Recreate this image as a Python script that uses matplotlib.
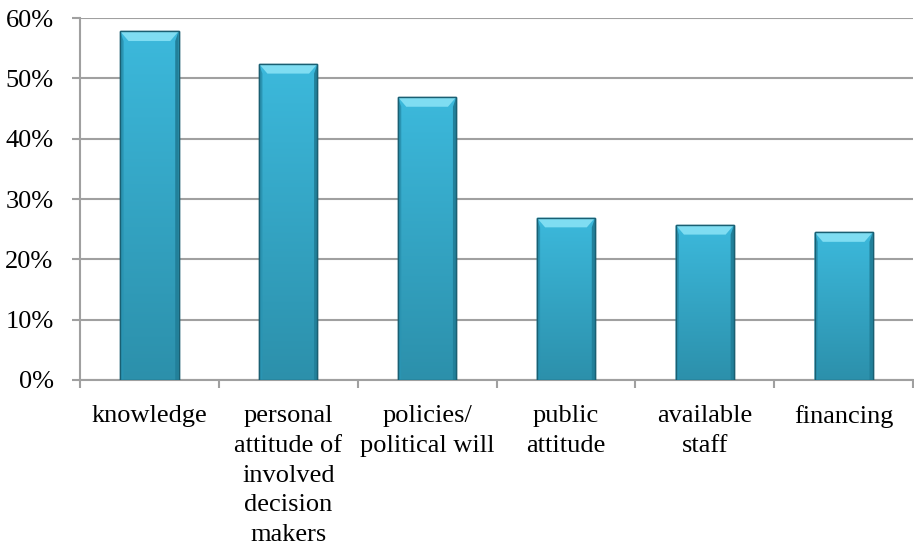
import numpy as np
import matplotlib
matplotlib.use("Agg")
import matplotlib.pyplot as plt
from matplotlib.patches import Polygon
from matplotlib.ticker import PercentFormatter, FixedLocator

categories = ["knowledge", "personal\nattitude of\ninvolved\ndecision\nmakers",
              "policies/\npolitical will", "public\nattitude", "available\nstaff", "financing"]
values = [57.8, 52.4, 46.9, 26.9, 25.7, 24.5]

plt.rcParams["font.family"] = ["Liberation Serif", "DejaVu Serif"]

fig = plt.figure(figsize=(9.14, 5.49), dpi=100)
ax = fig.add_axes([0.0875, 0.308, 0.9115, 0.659])

x = np.arange(len(categories))
width = 0.42
bars = ax.bar(x, values, width, color="#38B0D2", edgecolor="#1A5F72", linewidth=1.0, zorder=3)

# vertical gradient inside each bar (lighter top, darker bottom)
grad = np.linspace(0, 1, 256).reshape(-1, 1)
cmap = matplotlib.colors.LinearSegmentedColormap.from_list("b", ["#2C90AB", "#3CB9DC"])
for b in bars:
    x0, y0 = b.get_x(), b.get_y()
    w, h = b.get_width(), b.get_height()
    im = ax.imshow(grad, extent=[x0, x0 + w, y0, y0 + h], origin="lower",
                   cmap=cmap, aspect="auto", zorder=3.1)
    im.set_clip_path(b)
    # bevel on top and sides
    bx = 0.06
    by = 1.6
    top = Polygon([[x0, y0 + h], [x0 + w, y0 + h], [x0 + w - bx, y0 + h - by], [x0 + bx, y0 + h - by]],
                  closed=True, facecolor="#7FDDF2", edgecolor="none", zorder=3.2)
    ax.add_patch(top)
    left = Polygon([[x0, y0], [x0, y0 + h], [x0 + bx * 0.4, y0 + h - by], [x0 + bx * 0.4, y0]],
                   closed=True, facecolor="#2A94B2", edgecolor="none", zorder=3.2)
    right = Polygon([[x0 + w, y0], [x0 + w, y0 + h], [x0 + w - bx * 0.4, y0 + h - by], [x0 + w - bx * 0.4, y0]],
                    closed=True, facecolor="#22809A", edgecolor="none", zorder=3.2)
    ax.add_patch(left)
    ax.add_patch(right)
    outline = Polygon([[x0, y0], [x0, y0 + h], [x0 + w, y0 + h], [x0 + w, y0]],
                      closed=True, fill=False, edgecolor="#1A5F72", linewidth=1.0, zorder=3.3)
    ax.add_patch(outline)

ax.set_xlim(-0.5, len(categories) - 0.5)
ax.set_ylim(0, 60)
ax.yaxis.set_major_locator(FixedLocator([0, 10, 20, 30, 40, 50, 60]))
ax.yaxis.set_major_formatter(PercentFormatter(decimals=0))
ax.grid(axis="y", color="#A0A0A0", linewidth=1.5, zorder=0)

ax.set_xticks(x)
ax.set_xticklabels(categories, fontsize=19, linespacing=1.46)
ax.set_xticks(np.arange(-0.5, len(categories), 1.0), minor=True)
ax.tick_params(axis="x", which="major", length=0, pad=18)
ax.tick_params(axis="x", which="minor", length=6, width=1.5, color="#A0A0A0", direction="out")
ax.tick_params(axis="y", length=6, width=1.5, color="#A0A0A0", labelsize=19, pad=13)

for s in ["top", "right"]:
    ax.spines[s].set_visible(False)
for s in ["left", "bottom"]:
    ax.spines[s].set_color("#A0A0A0")
    ax.spines[s].set_linewidth(1.5)

fig.savefig("out.png", dpi=100)
